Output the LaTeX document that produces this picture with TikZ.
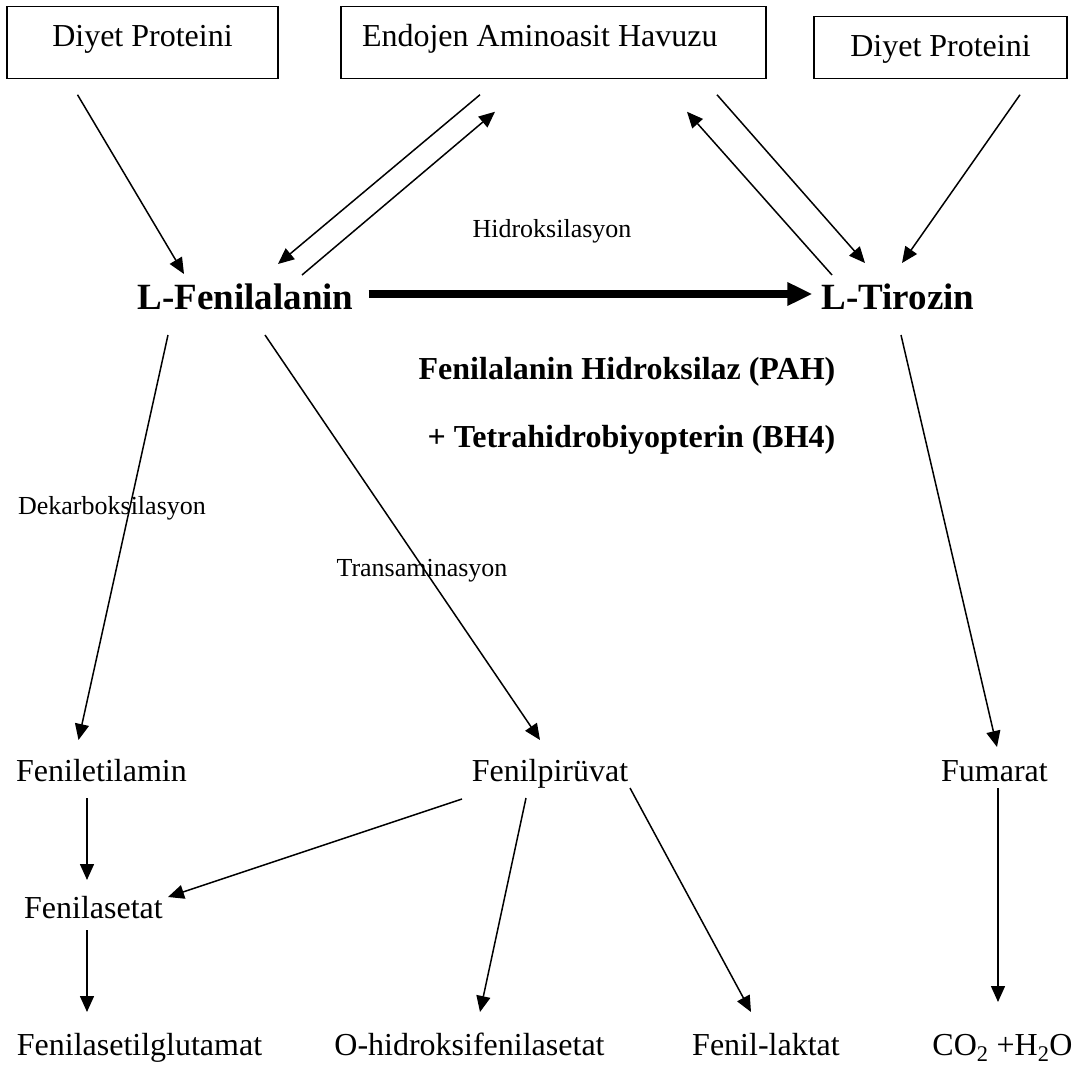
\documentclass[tikz,border=0pt]{standalone}
\usepackage{fontspec}
\setmainfont{Liberation Serif}
\usetikzlibrary{positioning,arrows.meta}

\begin{document}
\begin{tikzpicture}[
  x=1pt,y=-1pt,
  boxes/.style={rectangle,draw,line width=1.5pt,inner sep=0pt,anchor=base,font=\fontsize{32}{38}\selectfont},
  compound/.style={inner sep=0pt,anchor=base,font=\fontsize{32}{38}\selectfont},
  main/.style={inner sep=0pt,anchor=base,font=\fontsize{37}{44}\selectfont\bfseries},
  enzyme/.style={inner sep=0pt,anchor=base,font=\fontsize{32}{38}\selectfont\bfseries},
  notes/.style={inner sep=0pt,anchor=base,font=\fontsize{26}{31}\selectfont},
  arr/.style={line width=1.5pt,-{Triangle[length=16pt,width=14pt]}},
  bigarr/.style={line width=8pt,-{Triangle[length=25pt,width=22pt]}},
]
\useasboundingbox (0,0) rectangle (1080,1065);

% sources
\node (diet1) [boxes,minimum width=271pt,text height=40pt,text depth=32pt] at (142.5,46.7) {Diyet Proteini};
\node (pool) [boxes,minimum width=425pt,inner xsep=21pt,text height=40pt,text depth=32pt] at (553.5,46.7) {\makebox[383pt][l]{Endojen Aminoasit Havuzu}};
\node (diet2) [boxes,minimum width=253pt,text height=39.8pt,text depth=22.2pt] at (940.5,56.5) {Diyet Proteini};

% main line
\node (lphe) [main] at (245.5,309) {L-Fenilalanin};
\node (ltyr) [main] at (898,309) {L-Tirozin};
\node (hyd) [notes] at (552,237) {Hidroksilasyon};
\node (pah) [enzyme] at (627,379) {Fenilalanin Hidroksilaz (PAH)};
\node (bh4) [enzyme] at (631.5,447) {+ Tetrahidrobiyopterin (BH4)};

% products
\node (dekarb) [notes] at (112,514) {Dekarboksilasyon};
\node (trans) [notes] at (422,576) {Transaminasyon};
\node (pea) [compound] at (101.5,781) {Feniletilamin};
\node (ppyr) [compound] at (550,781) {Fenilpirüvat};
\node (fum) [compound] at (994.5,781) {Fumarat};
\node (paa) [compound] at (93.5,918) {Fenilasetat};
\node (pag) [compound] at (139.5,1055) {Fenilasetilglutamat};
\node (ohpa) [compound] at (469.5,1055) {O-hidroksifenilasetat};
\node (plac) [compound] at (766,1055) {Fenil-laktat};
\node (co2) [compound] at (1002.5,1055) {CO\textsubscript{2} +H\textsubscript{2}O};

\draw[bigarr] ([shift={(15,-15)}]lphe.base east) -- ([shift={(-9,-15)}]ltyr.base west);

\draw[arr] ([shift={(-65,15.3)}]diet1.south) -- ([shift={(-61.5,-35)}]lphe.base);
\draw[arr] ([shift={(-73.5,15.3)}]pool.south) -- ([shift={(32.5,-45)}]lphe.base);
\draw[arr] ([shift={(56.5,-34)}]lphe.base) -- ([shift={(-58.5,32.3)}]pool.south);
\draw[arr] ([shift={(-66,-34)}]ltyr.base) -- ([shift={(133.5,32.3)}]pool.south);
\draw[arr] ([shift={(163.5,15.3)}]pool.south) -- ([shift={(-33,-46)}]ltyr.base);
\draw[arr] ([shift={(79.5,15.3)}]diet2.south) -- ([shift={(4,-46)}]ltyr.base);

\draw[arr] ([shift={(-77.5,26)}]lphe.base) -- ([shift={(-23,-41)}]pea.base);
\draw[arr] ([shift={(19.5,26)}]lphe.base) -- ([shift={(-10,-41)}]ppyr.base);
\draw[arr] ([shift={(3,26)}]ltyr.base) -- ([shift={(2.5,-34)}]fum.base);

\draw[arr] ([shift={(-14.5,17)}]pea.base) -- ([shift={(-6.5,-38)}]paa.base);
\draw[arr] ([shift={(-6.5,12)}]paa.base) -- ([shift={(-52.5,-43)}]pag.base);
\draw[arr] ([shift={(-88,18)}]ppyr.base) -- ([shift={(74.5,-21)}]paa.base);
\draw[arr] ([shift={(-24,17)}]ppyr.base) -- ([shift={(10.5,-43)}]ohpa.base);
\draw[arr] ([shift={(80,7)}]ppyr.base) -- ([shift={(-15,-43)}]plac.base);
\draw[arr] ([shift={(3.5,7)}]fum.base) -- ([shift={(-4.5,-53)}]co2.base);
\end{tikzpicture}
\end{document}
